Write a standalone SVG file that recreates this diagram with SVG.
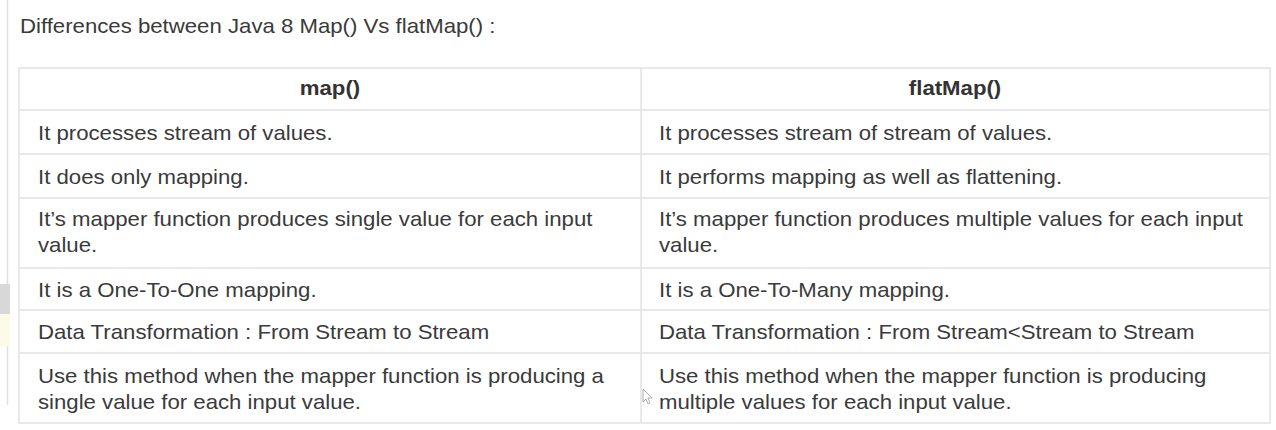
<svg xmlns="http://www.w3.org/2000/svg" width="1276" height="430" viewBox="0 0 1276 430">
<style>
.t{font-family:"Liberation Sans",Arial,sans-serif;font-size:20px;fill:#3a3a3a}
.h{font-family:"Liberation Sans",Arial,sans-serif;font-size:20px;font-weight:bold;fill:#333;text-anchor:middle}
.ttl{font-family:"Liberation Sans",Arial,sans-serif;font-size:20px;fill:#3a3a3a}
.ln{stroke:#e2e2e2;stroke-width:1.5;fill:none}
</style>
<rect x="0" y="0" width="1276" height="430" fill="#ffffff"/>
<line x1="7.5" y1="0" x2="7.5" y2="405" stroke="#e0e0e0" stroke-width="1.5"/>
<rect x="0" y="284" width="10" height="30" fill="#d8d8d8"/>
<rect x="0" y="314" width="10" height="32" fill="#fbfbe8"/>
<g id="title" transform="scale(1.11,1)">
<text class="ttl" x="18.02" y="33">Differences between Java 8 Map() Vs flatMap() :</text>
</g>
<g id="table">
<rect class="ln" x="19" y="68" width="1251" height="355"/>
<line class="ln" x1="641" y1="68" x2="641" y2="423"/>
<line class="ln" x1="19" y1="110" x2="1270" y2="110"/>
<line class="ln" x1="19" y1="154" x2="1270" y2="154"/>
<line class="ln" x1="19" y1="198" x2="1270" y2="198"/>
<line class="ln" x1="19" y1="268" x2="1270" y2="268"/>
<line class="ln" x1="19" y1="310" x2="1270" y2="310"/>
<line class="ln" x1="19" y1="353" x2="1270" y2="353"/>
</g>
<g id="header" transform="scale(1.11,1)">
<text class="h" x="297.3" y="95">map()</text>
<text class="h" x="860.4" y="95">flatMap()</text>
</g>
<g id="col-map" transform="scale(1.11,1)">
<text class="t" x="34.23" y="140">It processes stream of values.</text>
<text class="t" x="34.23" y="184">It does only mapping.</text>
<text class="t" x="34.23" y="226">It’s mapper function produces single value for each input</text>
<text class="t" x="34.23" y="252">value.</text>
<text class="t" x="34.23" y="297">It is a One-To-One mapping.</text>
<text class="t" x="34.23" y="339">Data Transformation : From Stream to Stream</text>
<text class="t" x="34.23" y="383">Use this method when the mapper function is producing a</text>
<text class="t" x="34.23" y="409">single value for each input value.</text>
</g>
<g id="col-flatmap" transform="scale(1.11,1)">
<text class="t" x="593.69" y="140">It processes stream of stream of values.</text>
<text class="t" x="593.69" y="184">It performs mapping as well as flattening.</text>
<text class="t" x="593.69" y="226">It’s mapper function produces multiple values for each input</text>
<text class="t" x="593.69" y="252">value.</text>
<text class="t" x="593.69" y="297">It is a One-To-Many mapping.</text>
<text class="t" x="593.69" y="339">Data Transformation : From Stream&lt;Stream to Stream</text>
<text class="t" x="593.69" y="383">Use this method when the mapper function is producing</text>
<text class="t" x="593.69" y="409">multiple values for each input value.</text>
</g>
<path d="M643,389 L643,402 L646,399 L648,404 L650,403 L648,398 L652,398 Z" fill="#fff" stroke="#999" stroke-width="0.8"/>
</svg>
